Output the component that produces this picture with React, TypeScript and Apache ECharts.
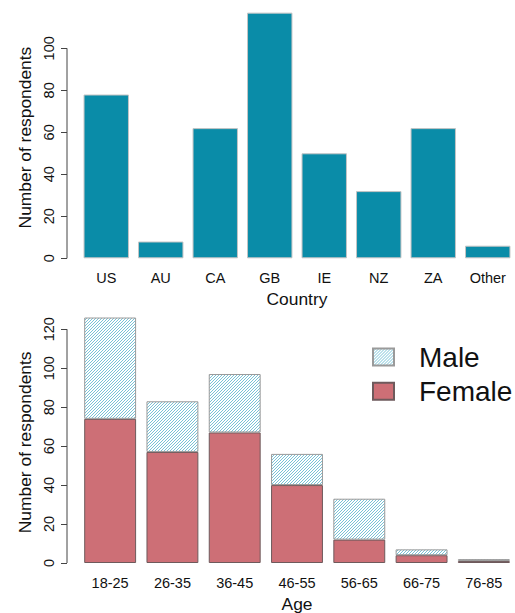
import React, { useEffect, useRef } from 'react';
import * as echarts from 'echarts';

const countries = ['US', 'AU', 'CA', 'GB', 'IE', 'NZ', 'ZA', 'Other'];
const countryCounts = [78, 8, 62, 117, 50, 32, 62, 6];
const countryTicks = [0, 20, 40, 60, 80, 100];

const ageGroups = ['18-25', '26-35', '36-45', '46-55', '56-65', '66-75', '76-85'];
const femaleCounts = [74, 57, 67, 40, 12, 4, 1];
const maleCounts = [52, 26, 30, 16, 21, 3, 1];
const ageTicks = [0, 20, 40, 60, 80, 100, 120];

const FONT = "'Liberation Sans', Arial, Helvetica, sans-serif";
const LEFT = 79;
const AXIS_OFFSET = 12;
const TEAL = '#0a8ca8';
const RED = '#cd6f76';
const HATCH_LINE = '#79c2d6';

function makeHatch(): any {
  const svg =
    "<svg xmlns='http://www.w3.org/2000/svg' width='3' height='3' shape-rendering='crispEdges'>" +
    "<rect width='3' height='3' fill='#ffffff'/>" +
    `<rect x='0' y='2' width='1' height='1' fill='${HATCH_LINE}'/>` +
    `<rect x='1' y='1' width='1' height='1' fill='${HATCH_LINE}'/>` +
    `<rect x='2' y='0' width='1' height='1' fill='${HATCH_LINE}'/>` +
    '</svg>';
  const url = 'data:image/svg+xml;charset=utf-8,' + encodeURIComponent(svg);
  return { image: url, repeat: 'repeat', imageWidth: 3, imageHeight: 3 };
}

export default function App() {
  const ref = useRef<HTMLDivElement>(null);
  useEffect(() => {
    if (!ref.current) return;
    const chart = echarts.init(ref.current, undefined, { renderer: 'svg' });
    const hatch = makeHatch();
    const topMax = Math.max(...countryCounts) * 1.04;
    const totals = femaleCounts.map((f, i) => f + maleCounts[i]);
    const botMax = Math.max(...totals) * 1.04;

    const yAxisCommon = (ticks: number[], max: number, gridIndex: number) => ({
      type: 'value',
      gridIndex,
      min: 0,
      max,
      offset: AXIS_OFFSET,
      axisLine: { show: false },
      splitLine: { show: false },
      axisTick: {
        show: true,
        length: 6,
        customValues: ticks,
        lineStyle: { color: '#444', width: 1 },
      },
      axisLabel: {
        customValues: ticks,
        rotate: 90,
        margin: 11,
        fontSize: 14.5,
        color: '#111',
        fontFamily: FONT,
      },
      name: 'Number of respondents',
      nameLocation: 'middle',
      nameGap: 34,
      nameTextStyle: {
        fontSize: 17.4,
        color: '#111',
        fontFamily: FONT,
        padding: [0, 14, 0, 0],
      },
    });

    const xAxisCommon = (cats: string[], name: string, gridIndex: number) => ({
      type: 'category',
      gridIndex,
      data: cats,
      axisLine: { show: false },
      axisTick: { show: false },
      axisLabel: {
        margin: 12,
        fontSize: 14.5,
        color: '#111',
        fontFamily: FONT,
        interval: 0,
      },
      name,
      nameLocation: 'middle',
      nameGap: 32,
      nameTextStyle: { fontSize: 17.4, color: '#111', fontFamily: FONT },
    });

    chart.setOption({
      animation: false,
      backgroundColor: '#ffffff',
      grid: [
        { left: LEFT, right: -5, top: 2.8, height: 255.5 },
        { left: LEFT, right: -5, top: 307.7, height: 256.6 },
      ],
      xAxis: [xAxisCommon(countries, 'Country', 0), xAxisCommon(ageGroups, 'Age', 1)],
      yAxis: [yAxisCommon(countryTicks, topMax, 0), yAxisCommon(ageTicks, botMax, 1)],
      legend: {
        data: ['Male', 'Female'],
        orient: 'vertical',
        left: 372,
        top: 343,
        padding: 0,
        itemWidth: 21,
        itemHeight: 17,
        itemGap: 6.3,
        icon: 'rect',
        selectedMode: false,
        textStyle: {
          fontSize: 28,
          lineHeight: 28,
          color: '#111',
          fontFamily: FONT,
          padding: [0, 0, 0, 20],
        },
      },
      series: [
        {
          type: 'bar',
          name: 'Country',
          xAxisIndex: 0,
          yAxisIndex: 0,
          data: countryCounts,
          barCategoryGap: '16.67%',
          itemStyle: { color: TEAL, borderColor: '#c4c4c4', borderWidth: 1 },
        },
        {
          type: 'bar',
          name: 'Female',
          xAxisIndex: 1,
          yAxisIndex: 1,
          stack: 'age',
          data: femaleCounts,
          barCategoryGap: '16.67%',
          itemStyle: { color: RED, borderColor: '#6e5a5c', borderWidth: 1 },
        },
        {
          type: 'bar',
          name: 'Male',
          xAxisIndex: 1,
          yAxisIndex: 1,
          stack: 'age',
          data: maleCounts,
          barCategoryGap: '16.67%',
          itemStyle: { color: hatch, borderColor: '#9a9a9a', borderWidth: 1 },
        },
      ],
    });

    const ax = LEFT - AXIS_OFFSET;
    const t0 = chart.convertToPixel({ yAxisIndex: 0 } as any, 0) as number;
    const t1 = chart.convertToPixel({ yAxisIndex: 0 } as any, countryTicks[countryTicks.length - 1]) as number;
    const b0 = chart.convertToPixel({ yAxisIndex: 1 } as any, 0) as number;
    const b1 = chart.convertToPixel({ yAxisIndex: 1 } as any, ageTicks[ageTicks.length - 1]) as number;
    chart.setOption({
      graphic: [
        { type: 'line', shape: { x1: ax, y1: t0, x2: ax, y2: t1 }, style: { stroke: '#444', lineWidth: 1 } },
        { type: 'line', shape: { x1: ax, y1: b0, x2: ax, y2: b1 }, style: { stroke: '#444', lineWidth: 1 } },
      ],
    });

    return () => chart.dispose();
  }, []);
  return (
    <div
      ref={ref}
      style={{ position: 'fixed', left: 0, top: 0, width: 515, height: 613, background: '#fff' }}
    />
  );
}
